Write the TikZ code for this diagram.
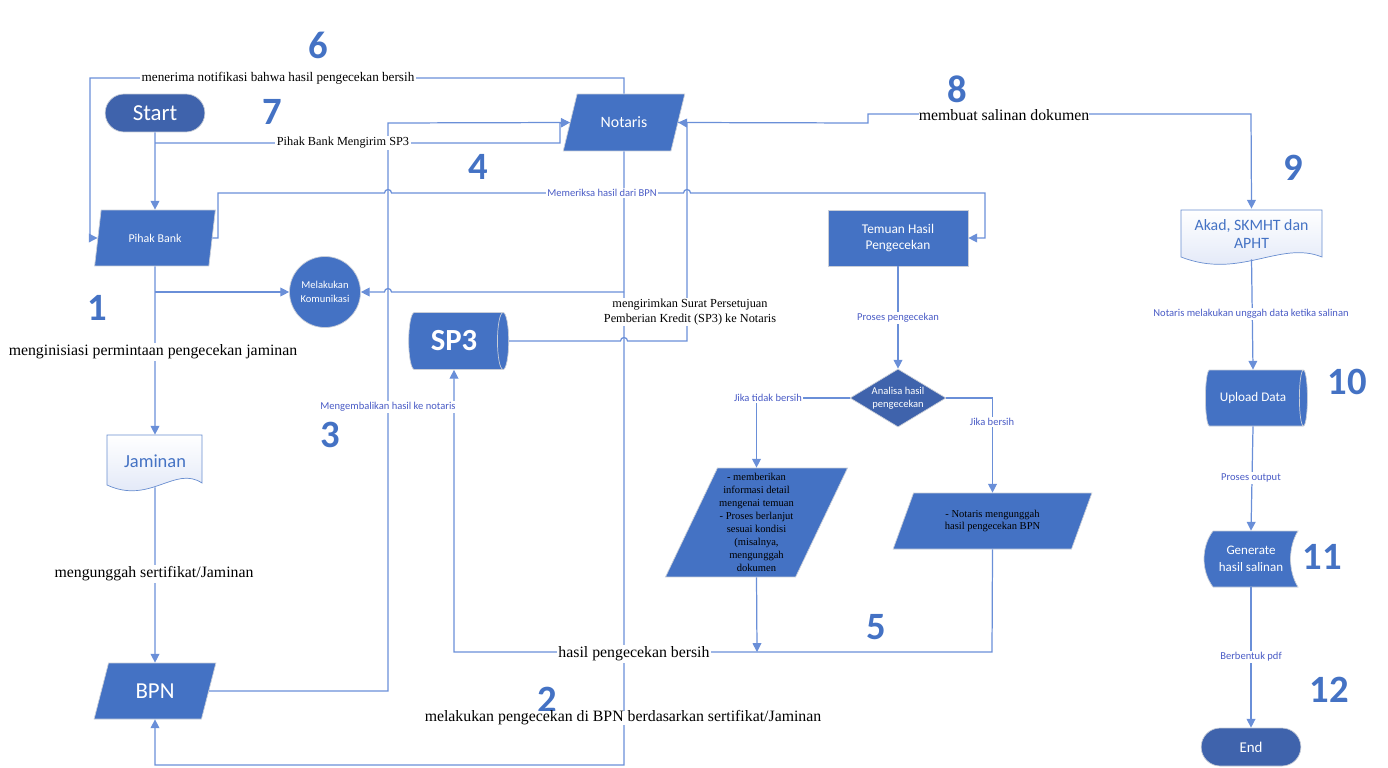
\documentclass[tikz,border=0pt]{standalone}
\usepackage{fontspec}
\setmainfont{Carlito}
\newfontfamily\tnr{Liberation Serif}
\usetikzlibrary{shapes.geometric,shapes.misc,arrows.meta}

\definecolor{boxblue}{HTML}{4472C4}
\definecolor{termblue}{HTML}{3F63AC}
\definecolor{lineblue}{HTML}{6A8FD8}
\definecolor{lblblue}{HTML}{4A5CC6}
\definecolor{rim}{HTML}{C9CED8}
\definecolor{docblue}{HTML}{DCE4F6}

\begin{document}
\begin{tikzpicture}[
        x=0.02cm, y=-0.02cm,
        flow/.style={draw=lineblue, line width=0.7pt, -{Triangle[length=5pt,width=5pt]}},
        term/.style={rounded rectangle, fill=termblue, draw=rim, text=white, minimum width=2.23cm, minimum height=0.76cm},
        io/.style={trapezium, trapezium stretches=true, fill=boxblue, draw=rim, align=center, inner sep=1pt},
        store/.style={cylinder, aspect=0.35, fill=boxblue, draw=rim, text=white, align=center},
        doctext/.style={minimum width=1.9cm, text=boxblue, align=center},
        docshape/.style={draw=boxblue!80, top color=white, bottom color=docblue},
        lab/.style={fill=white, inner sep=0.8pt, text=lblblue, font=\fontsize{6}{7}\selectfont},
        note/.style={fill=white, inner sep=0.8pt, align=center, font=\tnr\fontsize{9}{10}\selectfont},
        num/.style={text=boxblue, inner sep=0pt, font=\bfseries\fontsize{22}{22}\selectfont}
    ]
        \useasboundingbox (0,0) rectangle (1388,767);

        % shapes without a library shape
        \path[docshape] (107,435) -- (202,435) -- (202,483) .. controls (175,465) and (150,505) .. (107,485) -- cycle;
        \path[docshape] (1181,210) -- (1322,210) -- (1322,257) .. controls (1280,240) and (1240,280) .. (1181,257) -- cycle;
        \filldraw[fill=boxblue, draw=rim] (1213,531) -- (1298,531) .. controls (1288,547) and (1288,571) .. (1298,587) -- (1213,587) .. controls (1201,571) and (1201,547) .. (1213,531) -- cycle;

        % nodes
        \node[term, font=\fontsize{13}{13}\selectfont] (start) at (155,113) {Start};
        \node[io, text=white, minimum width=2.42cm, minimum height=1.12cm, trapezium left angle=74, trapezium right angle=106, font=\fontsize{6.8}{8}\selectfont] (bank) at (155,238) {Pihak Bank};
        \node[io, text=white, minimum width=2.44cm, minimum height=1.14cm, trapezium left angle=63, trapezium right angle=117, font=\fontsize{9}{10}\selectfont] (notaris) at (624,122.5) {Notaris};
        \node[circle, fill=boxblue, draw=rim, text=white, minimum size=1.42cm, inner sep=0pt, align=center, font=\fontsize{6}{8}\selectfont] (kom) at (325,292) {Melakukan\\Komunikasi};
        \node[store, minimum width=1.14cm, minimum height=2cm, font=\bfseries\fontsize{17.5}{18}\selectfont] (sp3) at (454,341) {SP3};
        \node[doctext, minimum height=1.04cm, font=\fontsize{10.5}{12}\selectfont] (jam) at (155,461) {Jaminan};
        \node[io, text=white, minimum width=2.44cm, minimum height=1.12cm, trapezium left angle=70, trapezium right angle=110, font=\fontsize{13}{13}\selectfont] (bpn) at (155,691) {BPN};
        \node[rectangle, fill=boxblue, draw=rim, text=white, minimum width=2.8cm, minimum height=1.12cm, align=center, font=\fontsize{7.6}{9.5}\selectfont] (temuan) at (898,238) {Temuan Hasil\\Pengecekan};
        \node[diamond, aspect=1.65, fill=termblue, draw=rim, text=white, minimum width=1.92cm, minimum height=1.16cm, inner sep=0pt, align=center, font=\fontsize{6}{7.5}\selectfont] (ana) at (898,398) {Analisa hasil\\pengecekan};
        \node[io, minimum width=3.54cm, minimum height=2.18cm, trapezium left angle=63, trapezium right angle=117, font=\tnr\fontsize{6}{7.4}\selectfont] (para1) at (756.5,522.5) {- memberikan\\informasi detail\\mengenai temuan\\- Proses berlanjut\\sesuai kondisi\\(misalnya,\\mengunggah\\dokumen};
        \node[io, minimum width=3.98cm, minimum height=1.12cm, trapezium left angle=63, trapezium right angle=117, font=\tnr\fontsize{6}{6.8}\selectfont] (para2) at (992.5,521) {- Notaris mengunggah\\hasil pengecekan BPN};
        \node[doctext, minimum width=2.82cm, minimum height=1cm, font=\fontsize{9}{10.5}\selectfont] (akad) at (1251.5,234) {Akad, SKMHT dan\\APHT};
        \node[store, minimum width=1.12cm, minimum height=2.04cm, font=\fontsize{7.5}{9}\selectfont] (upl) at (1253,398) {Upload Data};
        \node[minimum width=1.88cm, minimum height=1.12cm, text=white, align=center, font=\fontsize{7.4}{9.5}\selectfont] (gen) at (1251,559) {Generate\\hasil salinan};
        \node[term, font=\fontsize{8.5}{9}\selectfont] (end) at (1251,747) {End};

        % junctions
        \coordinate (j1) at (155,143);
        \coordinate (j2) at (155,292);
        \coordinate (j3) at (624,292);
        \coordinate (j4) at (757,652);

        % connectors
        \draw[flow] (start) -- (bank);
        \draw[flow] (j1) -- (560,143) -- (560,123) -- (notaris.west);
        \draw[flow] (notaris.north) -- (624,78) -- (90,78) -- (90,238) -- (bank.west);
        \draw[flow] (bank.east) -- (218,238) -- (218,193) -- (384.5,193) arc[start angle=180, end angle=0, radius=2pt] -- (683.5,193) arc[start angle=180, end angle=0, radius=2pt] -- (985,193) -- (985,238) -- (temuan.east);
        \draw[flow] (bank.south) -- (jam.north);
        \draw[flow] (j2) -- (kom);
        \draw[flow] (notaris.south) -- (624,765) -- (155,765) -- (bpn.south);
        \draw[flow] (j3) -- (391.5,292) arc[start angle=0, end angle=180, radius=2pt] -- (kom.east);
        \draw[flow] (jam.south) -- (bpn.north);
        \draw[flow] (bpn.east) -- (388,691) -- (388,123) -- (notaris.west);
        \draw[flow] (sp3.east) -- (620.5,341) arc[start angle=180, end angle=0, radius=2pt] -- (687,341) -- (687,123) -- (notaris.east);
        \draw[flow] (notaris.east) -- (868,123) -- (868,114) -- (1251,114) -- (akad.north);
        \draw[flow] (temuan) -- (ana);
        \draw[flow] (ana.west) -| (para1.north);
        \draw[flow] (ana.east) -| (para2.north);
        \draw[flow] (para1.south) -- (j4);
        \draw[flow] (para2.south) -- (992,652) -| (sp3.south);
        \draw[flow] (akad.south) -- (upl.north);
        \draw[flow] (upl.south) -- (gen.north);
        \draw[flow] (gen.south) -- (end.north);

        % step numbers
        \foreach \n/\x/\y in {1/97/308, 2/547/700, 3/330/435, 4/478/167, 5/876/627, 6/318/45,
                              7/272/112, 8/957/89, 9/1293/168, 10/1347/382, 11/1322/557, 12/1329/690}
            \node[num] (n\n) at (\x,\y) {\n};

        % connector labels
        \node[note, font=\tnr\fontsize{7.5}{8}\selectfont] (l6) at (278,78) {menerima notifikasi bahwa hasil pengecekan bersih};
        \node[note, font=\tnr\fontsize{7}{8}\selectfont] (l7) at (343,143) {Pihak Bank Mengirim SP3};
        \node[lab] (l4) at (602,193) {Memeriksa hasil dari BPN};
        \node[note] (l1) at (153,352) {menginisiasi permintaan pengecekan jaminan};
        \node[note] (lup) at (154,574) {mengunggah sertifikat/Jaminan};
        \node[lab] (l3) at (388,407) {Mengembalikan hasil ke notaris};
        \node[note, font=\tnr\fontsize{7}{8.5}\selectfont] (lsp3) at (690,312) {mengirimkan Surat Persetujuan\\Pemberian Kredit (SP3) ke Notaris};
        \node[note] (l5) at (634,654) {hasil pengecekan bersih};
        \node[note, inner sep=0pt] (l2) at (623,718) {melakukan pengecekan di BPN berdasarkan sertifikat/Jaminan};
        \node[note, inner sep=0pt] (l8) at (1004,115) {membuat salinan dokumen};
        \node[lab] (lcek) at (898,318) {Proses pengecekan};
        \node[lab] (lno) at (768,398) {Jika tidak bersih};
        \node[lab] (lyes) at (992,422) {Jika bersih};
        \node[lab] (l9) at (1251,314) {Notaris melakukan unggah data ketika salinan};
        \node[lab] (l10) at (1251,478) {Proses output};
        \node[lab] (l11) at (1251,657) {Berbentuk pdf};
    \end{tikzpicture}
\end{document}
